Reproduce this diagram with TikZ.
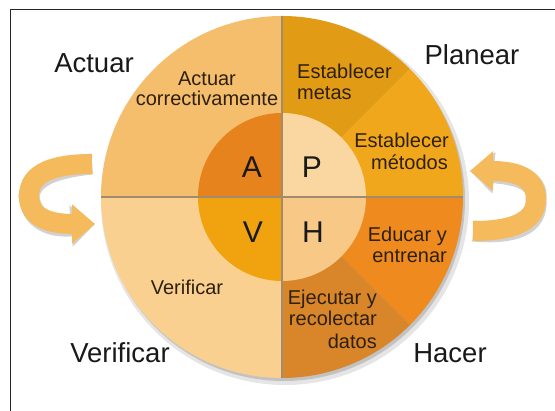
\documentclass[tikz,border=0pt]{standalone}
\usepackage{fontspec}
\setmainfont{Liberation Sans}
\usetikzlibrary{arrows.meta}
\definecolor{qTL}{RGB}{244,190,108}
\definecolor{qBL}{RGB}{249,208,143}
\definecolor{qMetas}{RGB}{225,155,20}
\definecolor{qMetodos}{RGB}{241,167,28}
\definecolor{qEducar}{RGB}{238,138,30}
\definecolor{qEjecutar}{RGB}{217,133,42}
\definecolor{iA}{RGB}{231,131,29}
\definecolor{iP}{RGB}{250,214,160}
\definecolor{iV}{RGB}{240,163,15}
\definecolor{iH}{RGB}{248,200,134}
\definecolor{arrowcol}{RGB}{245,186,92}
\definecolor{divider}{RGB}{160,140,108}
\definecolor{txtbrown}{RGB}{46,32,16}
\tikzset{
  outerlabel/.style={font=\fontsize{27.5}{30}\selectfont, text=black!90, inner sep=0pt, anchor=base},
  smalltxt/.style={font=\fontsize{20}{21}\selectfont, text=txtbrown, inner sep=0pt},
  bigletter/.style={font=\fontsize{30}{32}\selectfont, text=black!90, inner sep=0pt, anchor=base},
  cyclearrow/.style={draw=arrowcol, line width=20pt, line cap=butt,
    -{Triangle[width=38pt,length=23pt]}},
  cycleshadow/.style={draw=black, opacity=0.18, line width=21pt, line cap=butt,
    -{Triangle[width=40pt,length=24pt]}},
}
\begin{document}
\begin{tikzpicture}[x=1pt,y=1pt]
\useasboundingbox (0,0) rectangle (555,411);
\fill[white] (0,0) rectangle (555,411);
% frame (left and top edges)
\draw[line width=1.4pt, black!85] (10.5,0) -- (10.5,401.7) -- (555,401.7);

\coordinate (C) at (282,214);

% circle shadow
\fill[black, opacity=0.10] (285,210) circle[radius=184];
\fill[black, opacity=0.15] (284,211) circle[radius=181];

% outer sectors
\fill[qTL] (C) -- ++(90:181) arc[start angle=90, end angle=180, radius=181] -- cycle;
\fill[qBL] (C) -- ++(180:181) arc[start angle=180, end angle=270, radius=181] -- cycle;
\fill[qMetas] (C) -- ++(45:181) arc[start angle=45, end angle=90, radius=181] -- cycle;
\fill[qMetodos] (C) -- ++(0:181) arc[start angle=0, end angle=45, radius=181] -- cycle;
\fill[qEducar] (C) -- ++(-45:181) arc[start angle=-45, end angle=0, radius=181] -- cycle;
\fill[qEjecutar] (C) -- ++(-90:181) arc[start angle=-90, end angle=-45, radius=181] -- cycle;

% inner quadrants
\fill[iA] (C) -- ++(90:84) arc[start angle=90, end angle=180, radius=84] -- cycle;
\fill[iP] (C) -- ++(0:84) arc[start angle=0, end angle=90, radius=84] -- cycle;
\fill[iV] (C) -- ++(180:84) arc[start angle=180, end angle=270, radius=84] -- cycle;
\fill[iH] (C) -- ++(270:84) arc[start angle=270, end angle=360, radius=84] -- cycle;

% dividers
\draw[divider, line width=1.8pt] (C) ++(0,181) -- ++(0,-362);
\draw[divider, line width=1.8pt] (C) ++(-181,0) -- ++(362,0);

% cycle arrows (shadows then arrows)
\coordinate (la0) at (92,247);
\coordinate (la1) at (29,215);
\coordinate (la2) at (95,187);
\coordinate (ra0) at (473,180);
\coordinate (ra1) at (536,212);
\coordinate (ra2) at (470,240);
\begin{scope}[shift={(2.5,-3.5)}]
\draw[cycleshadow] (la0) .. controls (55,247) and (29,239) .. (la1)
  .. controls (29,193) and (50,187) .. (la2);
\draw[cycleshadow] (ra0) .. controls (510,180) and (536,188) .. (ra1)
  .. controls (536,234) and (515,240) .. (ra2);
\end{scope}
\draw[cyclearrow] (la0) .. controls (55,247) and (29,239) .. (la1)
  .. controls (29,193) and (50,187) .. (la2);
\draw[cyclearrow] (ra0) .. controls (510,180) and (536,188) .. (ra1)
  .. controls (536,234) and (515,240) .. (ra2);

% outer labels
\node[outerlabel] (actuarL) at (94,338) {Actuar};
\node[outerlabel] (planearL) at (472,346) {Planear};
\node[outerlabel] (verifL) at (120,48) {Verificar};
\node[outerlabel] (hacerL) at (450,48) {Hacer};

% letters
\node[bigletter] (letA) at (252,233) {A};
\node[bigletter] (letP) at (312,233) {P};
\node[bigletter] (letV) at (253,168) {V};
\node[bigletter] (letH) at (313,168) {H};

% small texts
\node[smalltxt, anchor=base] (act1) at (207,325) {Actuar};
\node[smalltxt, anchor=base] (act2) at (207,305) {correctivamente};
\node[smalltxt, anchor=base west] (met1) at (297,332) {Establecer};
\node[smalltxt, anchor=base west] (met2) at (297,311) {metas};
\node[smalltxt, anchor=base east] (mto1) at (449,263) {Establecer};
\node[smalltxt, anchor=base east] (mto2) at (448,241) {métodos};
\node[smalltxt, anchor=base east] (edu1) at (447,169) {Educar y};
\node[smalltxt, anchor=base east] (edu2) at (447,148) {entrenar};
\node[smalltxt, anchor=base east] (eje1) at (377,106) {Ejecutar y};
\node[smalltxt, anchor=base east] (eje2) at (377,85) {recolectar};
\node[smalltxt, anchor=base east] (eje3) at (377,62) {datos};
\node[smalltxt, anchor=base] (ver1) at (187,116) {Verificar};
\end{tikzpicture}
\end{document}
